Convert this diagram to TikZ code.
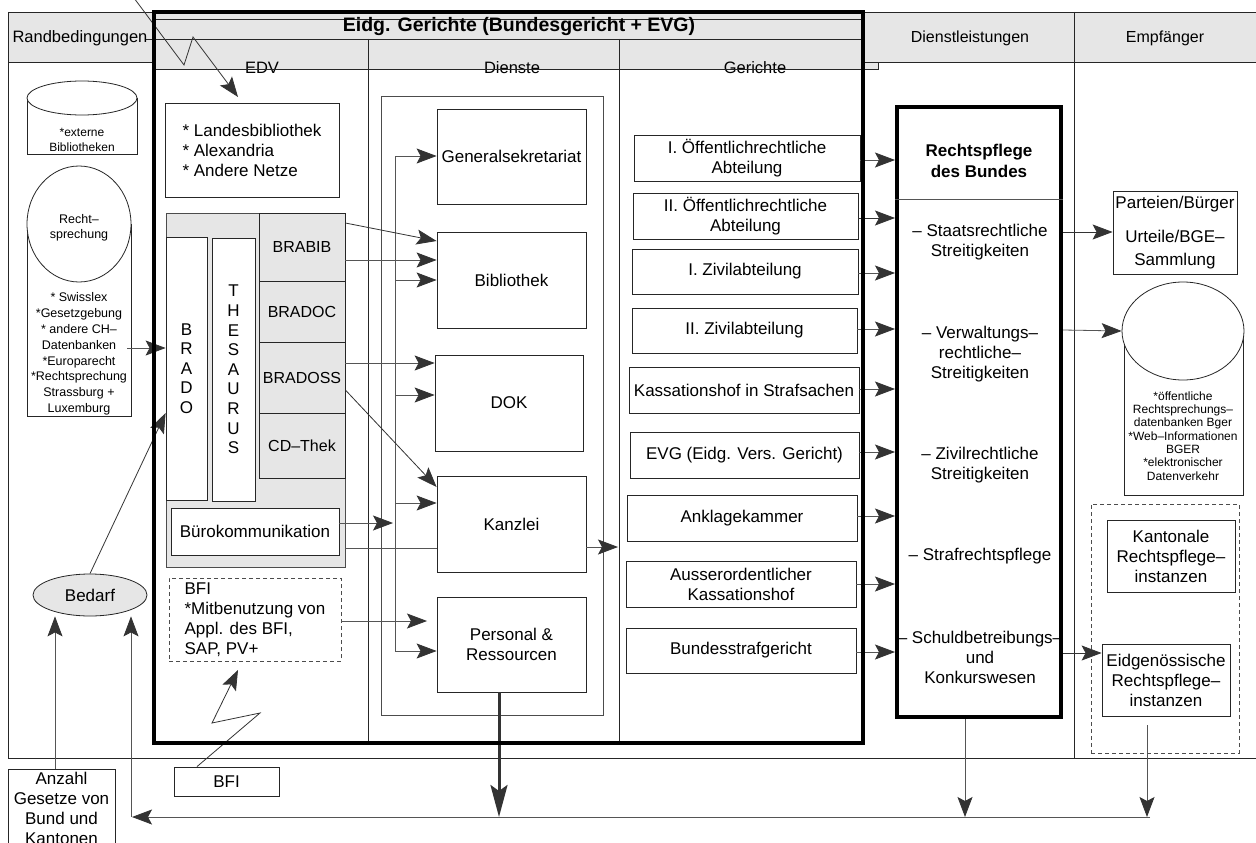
\documentclass[tikz,border=0pt]{standalone}
\usepackage{fontspec}
\setmainfont{Liberation Sans}
\usetikzlibrary{arrows.meta,shapes.geometric,calc}
\definecolor{hdr}{RGB}{230,230,230}
\definecolor{ln}{RGB}{85,85,85}
\definecolor{ah}{RGB}{51,51,51}
\newcommand\fsz[2]{\fontsize{#1}{#2}\selectfont}
\newcommand\bx[7]{%
  \pgfmathsetmacro\bxcx{(#2+#4)/2}%
  \pgfmathsetmacro\bxcy{(#3+#5)/2}%
  \pgfmathsetmacro\bxw{#4-#2}%
  \pgfmathsetmacro\bxh{#5-#3}%
  \node[#6, minimum width=\bxw pt, minimum height=\bxh pt] (#1) at (\bxcx,\bxcy) {#7};%
}
\begin{document}
\begin{tikzpicture}[x=1pt,y=-1pt,
  box/.style={draw=black!85, fill=white, line width=0.8pt, inner sep=0pt, align=center, font=\fsz{17}{20}},
  gbox/.style={box, fill=hdr},
  dbox/.style={box, draw=black!70, dash pattern=on 4pt off 3pt},
  txt/.style={inner sep=0pt, align=center, font=\fsz{17}{20}},
  small/.style={inner sep=0pt, align=center, font=\fsz{12}{14}},
  conn/.style={draw=ln, line width=0.8pt},
  arr/.style={conn, -{Stealth[length=20pt,width=15pt,inset=4pt,color=ah]}},
  thinl/.style={draw=black!85, line width=0.8pt},
  evgframe/.style={draw=black, line width=4pt},
]
\useasboundingbox (0,0) rectangle (1256,843);
\fill[white] (0,0) rectangle (1256,843);

% ---------- lanes ----------
\draw[thinl, fill=hdr] (8,12) rectangle (1257,62);
\draw[thinl] (8,12) -- (8,758) -- (1257,758);
\draw[thinl] (1074,12) -- (1074,758);
\node[txt, font=\fsz{16.5}{20}] (hRand) at (80,38) {Randbedingungen};
\node[txt, font=\fsz{16}{20}] (hDienst) at (970,38) {Dienstleistungen};
\node[txt, font=\fsz{16}{20}] (hEmpf) at (1165,38) {Empfänger};

% ---------- EVG inner header ----------
\draw[thinl, fill=hdr] (154,19) rectangle (863,69);
\draw[thinl, fill=hdr] (863,62) rectangle (878,69);
\draw[thinl] (146,39) -- (863,39);
\node[txt, font=\bfseries\fsz{19.5}{24}] (title) at (519,27) {Eidg. Gerichte (Bundesgericht + EVG)};
\node[txt, font=\fsz{16.5}{20}] (cEDV) at (262,68) {EDV};
\node[txt, font=\fsz{16.5}{20}] (cDienste) at (512,68) {Dienste};
\node[txt, font=\fsz{16.5}{20}] (cGerichte) at (755,68) {Gerichte};
\draw[thinl] (154,69) -- (863,69);
\draw[thinl] (368,39) -- (368,743);
\draw[thinl] (619,39) -- (619,743);

% ---------- Randbedingungen ----------
\bx{extBody}{27}{98}{137}{154}{box}{}
\node[box, ellipse, minimum width=110pt, minimum height=34pt] (extTop) at (82,98) {};
\node[small, font=\fsz{12}{14.3}] (extTxt) at (82,140) {*externe\\Bibliotheken};

\bx{rBody}{27}{224}{131}{416}{box}{}
\node[box, ellipse, minimum width=104pt, minimum height=116pt] (rTop) at (79,224) {};
\node[small, font=\fsz{12.5}{15}] (rTopTxt) at (79,228) {Recht–\\sprechung};
\node[small, font=\fsz{12.5}{15.8}] (rList) at (79,354) {* Swisslex\\*Gesetzgebung\\* andere CH–\\Datenbanken\\*Europarecht\\*Rechtsprechung\\Strassburg +\\Luxemburg};

\node[box, ellipse, fill=hdr, minimum width=114pt, minimum height=42pt] (bedarf) at (90,595) {Bedarf};
\bx{anzahl}{8}{769}{115}{848}{box}{Anzahl\\Gesetze von\\Bund und\\Kantonen}

% ---------- EDV ----------
\bx{lib}{165}{103}{339}{197}{box, align=left}{* Landesbibliothek\\* Alexandria\\* Andere Netze}
\bx{edvg}{166}{213}{345}{567}{gbox, draw=black!70}{}
\bx{brado}{166}{237}{207}{500}{box, font=\fsz{17}{19.6}}{B\\R\\A\\D\\O}
\bx{thes}{212}{238}{255}{501}{box, font=\fsz{17}{19.6}}{T\\H\\E\\S\\A\\U\\R\\U\\S}
\bx{brabib}{259}{213}{345}{281}{gbox, font=\fsz{16}{19}}{BRABIB}
\bx{bradoc}{259}{281}{345}{342}{gbox, font=\fsz{16}{19}}{BRADOC}
\bx{bradoss}{259}{342}{345}{413}{gbox, font=\fsz{16}{19}}{BRADOSS}
\bx{cdthek}{259}{413}{345}{478}{gbox, font=\fsz{16}{19}}{CD–Thek}
\bx{buero}{171}{508}{339}{555}{box}{Bürokommunikation}
\bx{bfi}{169}{578}{341}{661}{dbox, align=left}{BFI\\*Mitbenutzung von\\Appl. des BFI,\\SAP, PV+}
\bx{bfib}{174}{767}{279}{796}{box}{BFI}

% ---------- Dienste ----------
\bx{dcont}{381}{96}{603}{715}{box, draw=black!70}{}
\bx{gs}{437}{109}{586}{204}{box}{Generalsekretariat}
\bx{bib}{437}{232}{586}{328}{box}{Bibliothek}
\bx{dok}{435}{355}{583}{451}{box}{DOK}
\bx{kanz}{437}{476}{586}{572}{box}{Kanzlei}
\bx{pers}{437}{597}{586}{692}{box}{Personal \&\\Ressourcen}

% ---------- Gerichte ----------
\bx{g1}{634}{135}{860}{181}{box}{I. Öffentlichrechtliche\\Abteilung}
\bx{g2}{633}{193}{858}{239}{box}{II. Öffentlichrechtliche\\Abteilung}
\bx{g3}{632}{249}{858}{294}{box}{I. Zivilabteilung}
\bx{g4}{632}{308}{857}{353}{box}{II. Zivilabteilung}
\bx{g5}{629}{367}{859}{413}{box}{Kassationshof in Strafsachen}
\bx{g6}{630}{432}{859}{478}{box}{EVG (Eidg. Vers. Gericht)}
\bx{g7}{627}{495}{857}{541}{box}{Anklagekammer}
\bx{g8}{626}{561}{856}{607}{box}{Ausserordentlicher\\Kassationshof}
\bx{g9}{626}{628}{856}{673}{box}{Bundesstrafgericht}

% ---------- Dienstleistungen ----------
\bx{rp}{897}{107}{1061}{717}{box, draw=black, line width=4pt}{}
\draw[conn] (rp.west |- 0,199) -- (rp.east |- 0,199);
\node[txt, font=\bfseries\fsz{17}{20.5}] (rpT) at (979,161) {Rechtspflege\\des Bundes};
\node[txt] (rp1) at (980,242) {– Staatsrechtliche\\Streitigkeiten};
\node[txt] (rp2) at (980,354) {– Verwaltungs–\\rechtliche–\\Streitigkeiten};
\node[txt] (rp3) at (980,465) {– Zivilrechtliche\\Streitigkeiten};
\node[txt] (rp4) at (980,556) {– Strafrechtspflege};
\node[txt] (rp5) at (980,657) {– Schuldbetreibungs–\\und\\Konkurswesen};

% ---------- Empfänger ----------
\bx{part}{1113}{191}{1237}{274}{box, font=\fsz{17}{22.5}}{Parteien/Bürger\\[12pt]Urteile/BGE–\\Sammlung}
\bx{oeBody}{1124}{331}{1243}{495}{box}{}
\node[box, ellipse, minimum width=122pt, minimum height=98pt] (oeTop) at (1183,331) {};
\node[small, font=\fsz{12}{13.3}] (oeTxt) at (1183,436) {*öffentliche\\Rechtsprechungs–\\datenbanken Bger\\*Web–Informationen\\BGER\\*elektronischer\\Datenverkehr};
\bx{dashE}{1091}{504}{1239}{753}{dbox, fill=none}{}
\bx{kant}{1107}{520}{1235}{592}{box}{Kantonale\\Rechtspflege–\\instanzen}
\bx{eidg}{1102}{644}{1230}{716}{box}{Eidgenössische\\Rechtspflege–\\instanzen}

% ---------- coordinates ----------
\coordinate (zzA) at (134,-2);
\coordinate (libIn) at (238,97);
\coordinate (bfiIn) at (238,670);
\coordinate (busT) at (395,156);
\coordinate (busB) at (395,651);
\coordinate (busIn) at (393,523);
\coordinate (kanzOut) at (618,547);
\coordinate (persIn) at (427,621);
\coordinate (retR) at (1150,817);
\coordinate (retL) at (132,817);
\coordinate (retC) at (131,817);
\coordinate (rpDown) at (965,817);
\coordinate (eidgOut) at (1147,725);
\coordinate (eidgDown) at (1147,817);
\coordinate (persDown) at (499,817);

% ---------- connectors ----------
\draw[arr, draw=black!80] (zzA) -- (184,65) -- (193,37) -- (libIn);
\draw[arr, draw=black!80] (bfib.north -| 197,0) -- (260,713) -- (212,723) -- (bfiIn);
\draw[arr] (rList.east |- 0,348) -- (brado.west |- 0,348);
\draw[arr, draw=black!80] (bedarf.north) -- (brado.west |- 0,413);
\draw[arr] (anzahl.north -| 55,0) -- (bedarf.south -| 55,0);

% bus in Dienste
\draw[conn] (busT) -- (busB);
\draw[arr] (busT) -- (gs.west |- busT);
\draw[arr] (busT |- 0,280) -- (bib.west |- 0,280);
\draw[arr] (busT |- 0,395) -- (dok.west |- 0,395);
\draw[arr] (busT |- 0,503) -- (kanz.west |- 0,503);
\draw[arr] (busB) -- (pers.west |- busB);

% EDV -> Dienste
\draw[arr, draw=black!80] (brabib.east |- 0,223) -- (bib.west |- 0,241);
\draw[arr] (brabib.east |- 0,260) -- (bib.west |- 0,260);
\draw[arr] (bradoss.east |- 0,363) -- (dok.west |- 0,363);
\draw[arr, draw=black!80] (bradoss.east |- 0,390) -- (kanz.west |- 0,487);
\draw[arr] (buero.east |- busIn) -- (busIn);
\draw[conn] (edvg.east |- 0,548) -- (kanz.west |- 0,548);
\draw[arr] (kanz.east |- kanzOut) -- (kanzOut);
\draw[arr] (bfi.east |- persIn) -- (persIn);

% Gerichte -> Rechtspflege
\draw[arr] (g1.east |- 0,160) -- (rp.west |- 0,160);
\draw[arr, draw=black!80] (g2.east |- 0,218) -- (rp.west |- 0,218);
\draw[arr] (g3.east |- 0,273) -- (rp.west |- 0,273);
\draw[arr] (g4.east |- 0,329) -- (rp.west |- 0,329);
\draw[arr] (g5.east |- 0,389) -- (rp.west |- 0,389);
\draw[arr] (g6.east |- 0,452) -- (rp.west |- 0,452);
\draw[arr] (g7.east |- 0,516) -- (rp.west |- 0,516);
\draw[arr] (g8.east |- 0,584) -- (rp.west |- 0,584);
\draw[arr] (g9.east |- 0,652) -- (rp.west |- 0,652);

% Rechtspflege -> Empfänger
\draw[arr, draw=black!80] (rp.east |- 0,232) -- (part.west |- 0,232);
\draw[arr] (rp.east |- 0,330) -- (oeTop.west);
\draw[arr, draw=black!80] (rp.east |- 0,653) -- (eidg.west |- 0,653);

% bottom feedback
\draw[arr] (rp.south -| rpDown) -- (rpDown);
\draw[arr] (eidgOut) -- (eidgDown);
\draw[arr] (retR) -- (retL);
\draw[arr] (retC) -- (bedarf.south -| retC);
\draw[line width=3pt, draw=ah, -{Stealth[length=32pt,width=17pt,inset=6pt,color=ah]}] (pers.south -| persDown) -- (persDown);

% EVG frame
\draw[evgframe] (154,12.5) rectangle (863,743);
\end{tikzpicture}
\end{document}
